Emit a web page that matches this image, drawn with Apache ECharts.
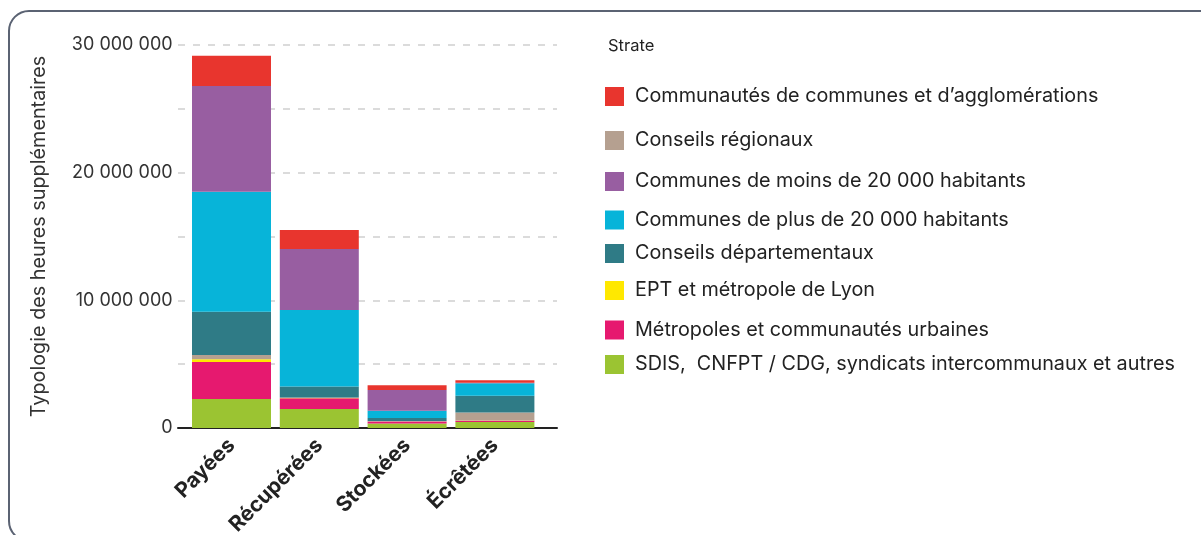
<!DOCTYPE html>
<html>
<head>
<meta charset="utf-8">
<script src="https://cdn.jsdelivr.net/npm/echarts@6/dist/echarts.min.js"></script>
<style>
  html, body { margin: 0; padding: 0; background: #fff; }
  #chart { width: 1201px; height: 535px; }
</style>
</head>
<body>
<div id="chart"></div>
<script>
// categories
var categories = ['Payées', 'Récupérées', 'Stockées', 'Écrêtées'];

// series, bottom of the stack first
var sdis = [2270000, 1490000, 350000, 470000];
var metropoles = [2900000, 840000, 150000, 100000];
var eptLyon = [210000, 20000, 10000, 10000];
var regionaux = [340000, 30000, 40000, 630000];
var departementaux = [3390000, 880000, 230000, 1310000];
var plus20000 = [9400000, 5980000, 580000, 990000];
var moins20000 = [8280000, 4780000, 1610000, 30000];
var communautes = [2370000, 1490000, 370000, 210000];

var yTicks = [0, 10000000, 20000000, 30000000];

var font = 'Inter';

var strates = [
  { name: 'SDIS,  CNFPT / CDG, syndicats intercommunaux et autres', data: sdis, color: '#9BC432' },
  { name: 'Métropoles et communautés urbaines', data: metropoles, color: '#E6196F' },
  { name: 'EPT et métropole de Lyon', data: eptLyon, color: '#FFE800' },
  { name: 'Conseils régionaux', data: regionaux, color: '#B5A090' },
  { name: 'Conseils départementaux', data: departementaux, color: '#2F7B86' },
  { name: 'Communes de plus de 20 000 habitants', data: plus20000, color: '#07B4D9' },
  { name: 'Communes de moins de 20 000 habitants', data: moins20000, color: '#985EA1' },
  { name: 'Communautés de communes et d\u2019agglomérations', data: communautes, color: '#E8352E' }
];

// legend order (top to bottom) and vertical centres
var legendOrder = [7, 3, 6, 5, 4, 2, 1, 0];
var legendY = [95.5, 139.5, 180.5, 219, 252.5, 289.5, 329, 363.5];

function fmt(v) {
  return String(v).replace(/\B(?=(\d{3})+(?!\d))/g, ' ');
}

var myChart = echarts.init(document.getElementById('chart'));

var legends = legendOrder.map(function (idx, i) {
  return {
    orient: 'vertical',
    left: 605,
    top: legendY[i] - 10,
    padding: 0,
    data: [strates[idx].name],
    icon: 'rect',
    itemWidth: 19,
    itemHeight: 19,
    selectedMode: false,
    textStyle: { fontFamily: font, fontSize: 19.8, color: '#222', lineHeight: 22, padding: [0, 0, 0, 6] }
  };
});

var option = {
  animation: false,
  textStyle: { fontFamily: font },
  graphic: [
    {
      type: 'rect',
      shape: { x: 9, y: 11, width: 1210, height: 530, r: 20 },
      style: { fill: 'none', stroke: '#5b6373', lineWidth: 2 },
      z: -10
    },
    {
      type: 'text',
      left: 608,
      top: 38,
      style: { text: 'Strate', font: '16.5px ' + font, fill: '#222' }
    }
  ],
  legend: legends,
  grid: [
    { left: 187.6, width: 351.2, top: 45, height: 383, outerBoundsMode: 'none' },
    { left: 178, width: 379, top: 45, height: 383, outerBoundsMode: 'none' }
  ],
  xAxis: [
    {
      type: 'category',
      gridIndex: 0,
      data: categories,
      axisLine: { show: false },
      axisTick: { show: false },
      axisLabel: {
        rotate: 45,
        margin: 14,
        fontFamily: font,
        fontSize: 21,
        fontWeight: 'bold',
        color: '#222'
      }
    },
    {
      type: 'category',
      gridIndex: 1,
      data: categories,
      axisLine: { show: true, lineStyle: { color: '#222', width: 2 } },
      axisTick: { show: false },
      axisLabel: { show: false }
    }
  ],
  yAxis: [
    {
      type: 'value',
      gridIndex: 0,
      min: 0,
      max: 30000000,
      interval: 10000000,
      name: 'Typologie des heures supplémentaires',
      nameLocation: 'middle',
      nameGap: 139,
      nameTextStyle: { fontFamily: font, fontSize: 19.8, color: '#333' },
      axisLine: { show: false },
      axisTick: { show: false },
      splitLine: { show: false },
      axisLabel: {
        margin: 15,
        fontFamily: font,
        fontSize: 18,
        color: '#333',
        formatter: function (v) { return yTicks.indexOf(v) >= 0 ? fmt(v) : ''; }
      }
    },
    {
      type: 'value',
      gridIndex: 1,
      min: 0,
      max: 30000000,
      interval: 5000000,
      axisLine: { show: false },
      axisTick: { show: false },
      axisLabel: { show: false },
      splitLine: { lineStyle: { color: '#cfcfcf', width: 1.5, type: [7, 8] } }
    }
  ],
  series: strates.map(function (s) {
    return {
      name: s.name,
      type: 'bar',
      stack: 'total',
      xAxisIndex: 0,
      yAxisIndex: 0,
      barWidth: 79,
      data: s.data,
      itemStyle: { color: s.color }
    };
  })
};

myChart.setOption(option);
window.addEventListener('resize', function () { myChart.resize(); });
</script>
</body>
</html>
